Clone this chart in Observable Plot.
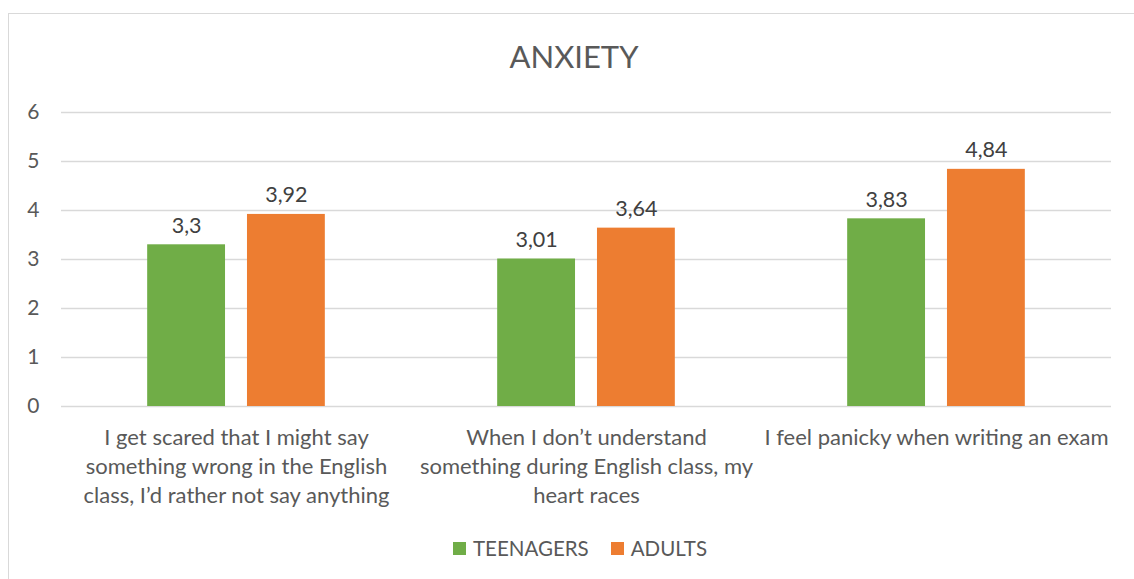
<!DOCTYPE html>
<html>
<head>
<meta charset="utf-8">
<script src="https://cdn.jsdelivr.net/npm/d3@7"></script>
<script src="https://cdn.jsdelivr.net/npm/@observablehq/plot@0.6"></script>
<style>
  html, body { margin: 0; padding: 0; background: #fff; }
  #wrap { position: relative; width: 1134px; height: 579px; overflow: hidden; font-family: Lato, sans-serif; color: #595959; }
  #border { position: absolute; left: 8px; top: 13px; width: 1140px; height: 600px; border: 1.5px solid #d9d9d9; box-sizing: border-box; }
  #title { position: absolute; left: 7px; width: 1134px; top: 36px; text-align: center; font-size: 31px; line-height: 40px; }
  #chart { position: absolute; left: 0; top: 0; }
  #legend { position: absolute; left: 13px; width: 1134px; top: 536px; display: flex; justify-content: center; gap: 22px; font-size: 20.5px; line-height: 24px; }
  .item { display: flex; align-items: center; gap: 7px; }
  .sw { width: 13px; height: 13px; display: inline-block; }
</style>
</head>
<body>
<div id="wrap">
  <div id="border"></div>
  <div id="chart"></div>
  <div id="title">ANXIETY</div>
  <div id="legend"></div>
</div>
<script>
const categories = [
  "I get scared that I might say\nsomething wrong in the English\nclass, I’d rather not say anything",
  "When I don’t understand\nsomething during English class, my\nheart races",
  "I feel panicky when writing an exam"
];
const series = ["TEENAGERS", "ADULTS"];
const teenagers = [3.3, 3.01, 3.83];
const adults = [3.92, 3.64, 4.84];
const yTicks = [0, 1, 2, 3, 4, 5, 6];
const colors = ["#70AD47", "#ED7D31"];

const data = [];
categories.forEach((c, i) => {
  data.push({category: c, series: series[0], value: teenagers[i]});
  data.push({category: c, series: series[1], value: adults[i]});
});
const fmt = v => String(v).replace(".", ",");

const plot = Plot.plot({
  width: 1134,
  height: 579,
  marginLeft: 60,
  marginRight: 22,
  marginTop: 112,
  marginBottom: 173,
  style: {fontFamily: "Lato, sans-serif", fontSize: "21px", color: "#595959", background: "transparent"},
  fx: {domain: categories, padding: 0, label: null, axis: null},
  x: {domain: series, paddingInner: 0.22, paddingOuter: 0.8635, axis: null, round: false},
  y: {domain: [0, 6], axis: null},
  color: {domain: series, range: colors},
  marks: [
    Plot.ruleY(yTicks, {y: d => d, stroke: "#d9d9d9", strokeWidth: 1.3}),
    Plot.barY(data, {fx: "category", x: "series", y: "value", fill: "series"}),
    Plot.text(data, {fx: "category", x: "series", y: "value", text: d => fmt(d.value), dy: -19, fill: "#404040", fontSize: 21.5}),
    Plot.axisY(yTicks, {tickSize: 0, tickPadding: 22, fill: "#595959", fontSize: 21, label: null}),
    Plot.axisFx({anchor: "bottom", tickSize: 0, tickPadding: 18, lineHeight: 1.32, lineAnchor: "top", fill: "#595959", fontSize: 22, label: null, textOverflow: null})
  ]
});
document.getElementById("chart").appendChild(plot);

const legend = document.getElementById("legend");
series.forEach((s, i) => {
  const it = document.createElement("div");
  it.className = "item";
  it.innerHTML = `<span class="sw" style="background:${colors[i]}"></span><span>${s}</span>`;
  legend.appendChild(it);
});
</script>
</body>
</html>
